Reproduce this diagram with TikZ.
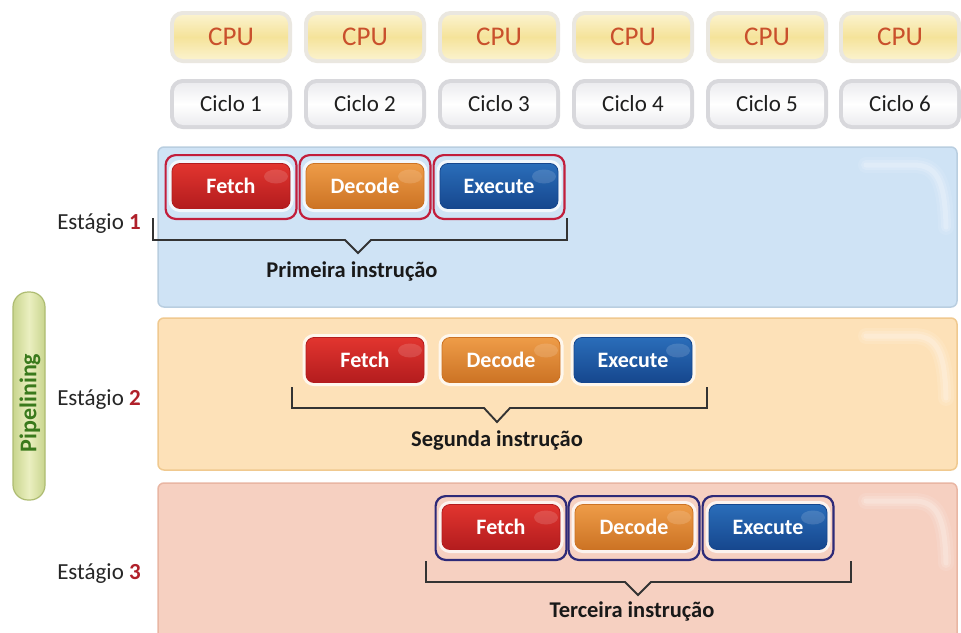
\documentclass[tikz,border=0pt]{standalone}
\usepackage{fontspec}
\setmainfont{Carlito}
\usetikzlibrary{calc}

% palette
\definecolor{cpuA}{HTML}{FBF2CC}
\definecolor{cpuB}{HTML}{F5E39A}
\definecolor{cpurim}{HTML}{EAE7E0}
\definecolor{cputext}{HTML}{C9502C}
\definecolor{cycA}{HTML}{FFFFFF}
\definecolor{cycB}{HTML}{ECECEF}
\definecolor{cycrim}{HTML}{D8D8DC}
\definecolor{fetchA}{HTML}{E2352F}
\definecolor{fetchB}{HTML}{B31C1E}
\definecolor{decA}{HTML}{EE9C48}
\definecolor{decB}{HTML}{CC7324}
\definecolor{exeA}{HTML}{2A6DB9}
\definecolor{exeB}{HTML}{16478E}
\definecolor{pan1}{HTML}{CFE3F5}
\definecolor{pan1e}{HTML}{B9CEE0}
\definecolor{pan2}{HTML}{FDE1B8}
\definecolor{pan2e}{HTML}{F0C98F}
\definecolor{pan3}{HTML}{F6D0C1}
\definecolor{pan3e}{HTML}{E9B6A3}
\definecolor{crim}{HTML}{C21E3C}
\definecolor{navy}{HTML}{2E2A78}
\definecolor{stnum}{HTML}{B0202A}
\definecolor{brk}{HTML}{333333}
\definecolor{pillA}{HTML}{EAEFC0}
\definecolor{pillB}{HTML}{C9D58E}
\definecolor{pille}{HTML}{AEBC72}
\definecolor{pilltext}{HTML}{3A7A1C}

\tikzset{
  cpubox/.style={rounded corners=9pt, minimum width=114pt, minimum height=44pt, inner sep=0pt,
    preaction={draw=cpurim, line width=8pt},
    top color=cpuA, bottom color=cpuA, middle color=cpuB,
    text=cputext, font=\fontsize{27}{27}\selectfont},
  cycbox/.style={rounded corners=9pt, minimum width=114pt, minimum height=42pt, inner sep=0pt,
    preaction={draw=cycrim, line width=8pt},
    top color=cycB, bottom color=cycB, middle color=cycA,
    text=black!88, font=\fontsize{23}{23}\selectfont},
  btn/.style={rounded corners=8pt, minimum width=118pt, minimum height=45pt, inner sep=0pt,
    preaction={draw=white, draw opacity=0.75, line width=7pt},
    text=white, font=\bfseries\fontsize{22}{22}\selectfont,
    path picture={\fill[white, opacity=0.14]
      ($(path picture bounding box.north east)+(-14,13)$) ellipse (12pt and 7pt);}},
  fetchbtn/.style={btn, top color=fetchA, bottom color=fetchB, draw=fetchB, line width=0.8pt},
  decbtn/.style={btn, top color=decA, bottom color=decB, draw=decB, line width=0.8pt},
  exebtn/.style={btn, top color=exeA, bottom color=exeB, draw=exeB, line width=0.8pt},
  ringred/.style={draw=crim, line width=2.2pt, rounded corners=10pt},
  ringblue/.style={draw=navy, line width=2.2pt, rounded corners=10pt},
  bracket/.style={draw=brk, line width=1.9pt, line join=miter},
  stagelabel/.style={text=black!85, font=\fontsize{23}{23}\selectfont},
  instrlabel/.style={text=black!90, font=\bfseries\fontsize{22.5}{22.5}\selectfont},
}

\newcommand{\stagebracket}[6]{%
  % #1 left x, #2 right x, #3 tick top y, #4 line y, #5 notch x, #6 notch depth
  \coordinate (bl) at (#1,#3);
  \coordinate (br) at (#2,#3);
  \draw[bracket] (bl) -- (#1,#4) -- (#5-13,#4) -- (#5,#4+#6) -- (#5+13,#4) -- (#2,#4) -- (br);
}

% soft reflection near the top right corner of a panel whose top edge is at #1
\newcommand{\panelglare}[1]{%
  \foreach \w/\o in {16/0.10,10/0.14,5/0.2} {
    \draw[white, line cap=round, line width=\w pt, draw opacity=\o]
      (866,#1+18) -- (915,#1+18) .. controls (936,#1+19) and (945,#1+32) .. (946,#1+80);
  }
}

\begin{document}
\begin{tikzpicture}[x=1pt, y=-1pt]
\useasboundingbox (0,0) rectangle (961,632);
\fill[white] (0,0) rectangle (961,632);

% stage panels
\filldraw[fill=pan1, draw=pan1e, line width=1.5pt, rounded corners=6pt] (158,147) rectangle (957,307);
\filldraw[fill=pan2, draw=pan2e, line width=1.5pt, rounded corners=6pt] (158,318) rectangle (957,470);
\filldraw[fill=pan3, draw=pan3e, line width=1.5pt, rounded corners=6pt] (158,483) rectangle (957,645);
\panelglare{147}
\panelglare{318}
\panelglare{483}

% CPU row and clock cycles
\foreach \i/\x in {1/231,2/365,3/499,4/633,5/767,6/900} {
  \node[cpubox] (cpu\i) at (\x,37) {CPU};
  \node[cycbox] (cyc\i) at (\x,104) {Ciclo \i};
}

% stage 1
\node[fetchbtn] (f1) at (231,186) {Fetch};
\node[decbtn]   (d1) at (365,186) {Decode};
\node[exebtn]   (e1) at (499,186) {Execute};
\foreach \n in {f1,d1,e1}
  \draw[ringred] ($(\n.north west)+(-6,-8)$) rectangle ($(\n.south east)+(6,10)$);
\stagebracket{153}{567}{218}{240}{358}{13}
\node[instrlabel] (ins1) at (352,271) {Primeira instrução};
\node[stagelabel] (est1) at (99,224) {Estágio \textcolor{stnum}{\bfseries 1}};

% stage 2
\node[fetchbtn] (f2) at (365,360) {Fetch};
\node[decbtn]   (d2) at (501,360) {Decode};
\node[exebtn]   (e2) at (633,360) {Execute};
\stagebracket{292}{707}{387}{408}{497}{14}
\node[instrlabel] (ins2) at (497,441) {Segunda instrução};
\node[stagelabel] (est2) at (99,400) {Estágio \textcolor{stnum}{\bfseries 2}};

% stage 3
\node[fetchbtn] (f3) at (501,527) {Fetch};
\node[decbtn]   (d3) at (634,527) {Decode};
\node[exebtn]   (e3) at (768,527) {Execute};
\foreach \n in {f3,d3,e3}
  \draw[ringblue] ($(\n.north west)+(-6,-8)$) rectangle ($(\n.south east)+(6,10)$);
\stagebracket{426}{851}{561}{582}{638}{13}
\node[instrlabel] (ins3) at (632,611) {Terceira instrução};
\node[stagelabel] (est3) at (99,574) {Estágio \textcolor{stnum}{\bfseries 3}};

% pipelining tag
\draw[draw=pille, line width=1.2pt, left color=pillB, right color=pillB, middle color=pillA,
      rounded corners=15pt] (13,292) rectangle (45,500);
\node[rotate=90, text=pilltext, font=\bfseries\fontsize{24}{24}\selectfont] (pipe) at (30,403) {Pipelining};

\end{tikzpicture}
\end{document}
